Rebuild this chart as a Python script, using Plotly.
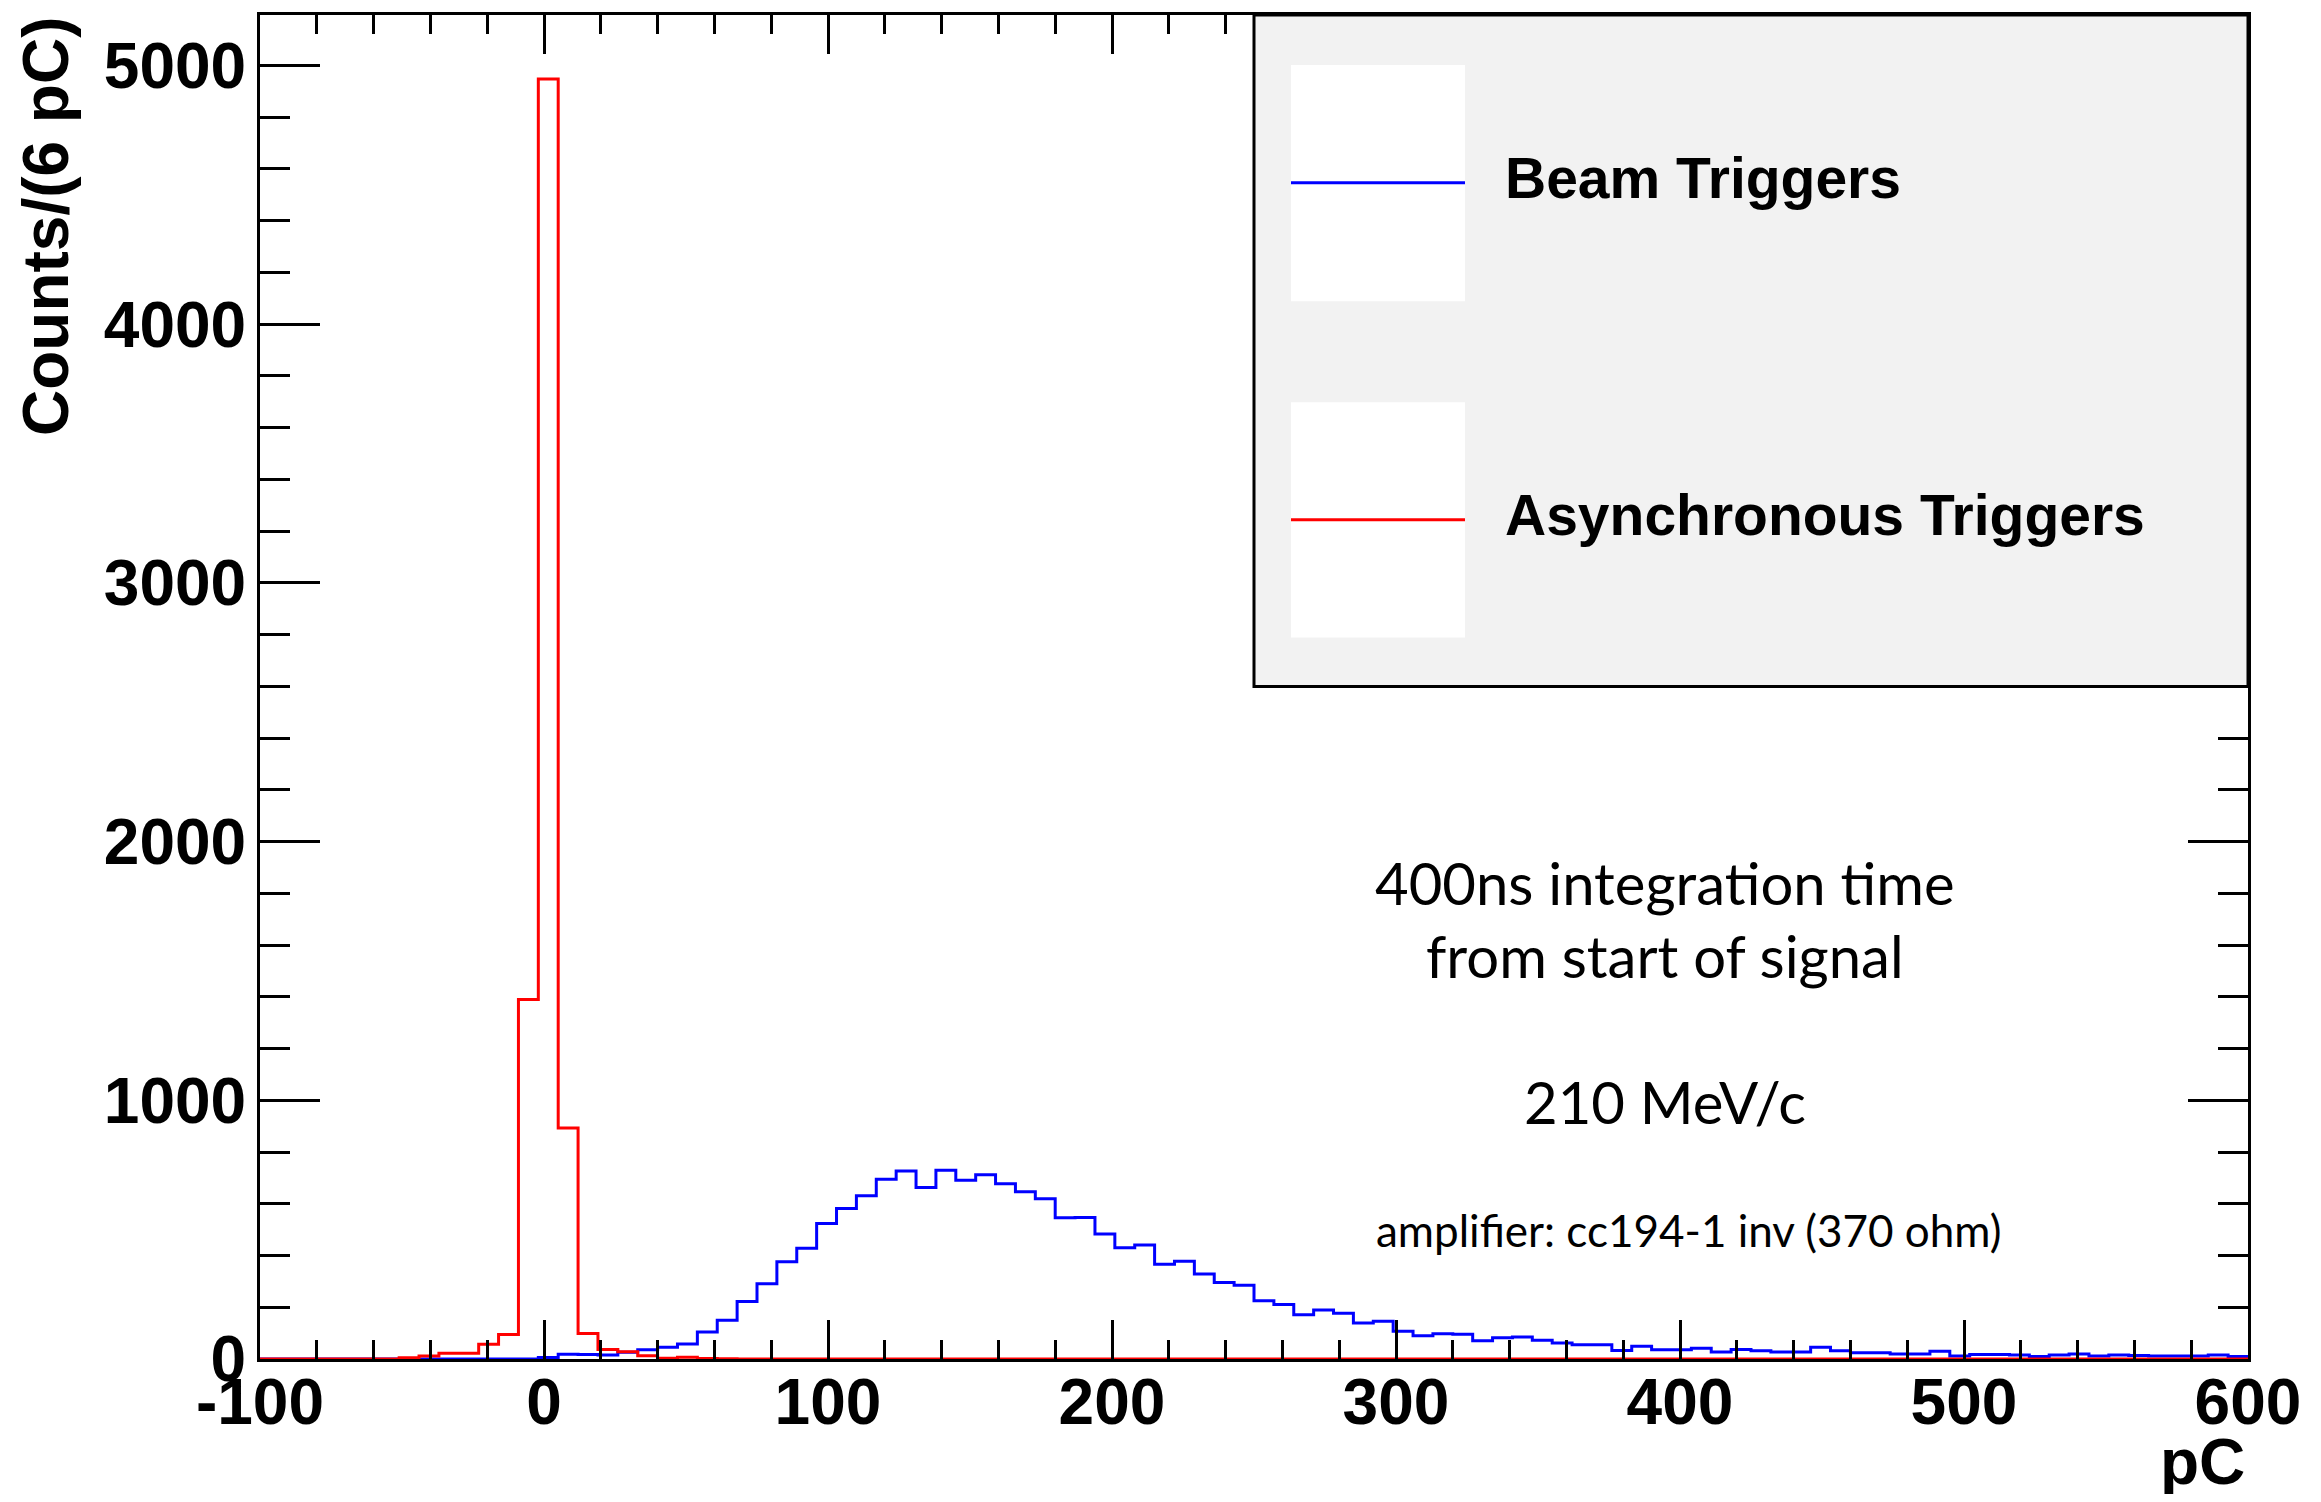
import plotly.graph_objects as go

# ---------------- data ----------------
bin_start = -100.0
bin_width = 7.0
n_bins = 100

beam_counts = [
    0, 0, 0, 0, 0, 0, 0, 0, 0, 0,
    0, 0, 0, 0, 6, 18, 17, 15, 26, 36,
    45, 58, 104, 150, 222, 291, 376, 428, 524, 582,
    631, 695, 727, 663, 730, 691, 712, 677, 646, 619,
    546, 547, 483, 430, 441, 366, 378, 329, 296, 285,
    225, 211, 171, 189, 177, 139, 146, 107, 90, 98,
    96, 71, 82, 85, 72, 62, 55, 55, 33, 49,
    36, 36, 42, 27, 37, 32, 27, 27, 45, 32,
    24, 24, 19, 19, 30, 12, 17, 17, 15, 10,
    15, 19, 12, 15, 14, 12, 12, 12, 15, 10,
]

async_counts = [
    0, 0, 0, 0, 0, 0, 0, 5, 12, 22,
    22, 57, 95, 1390, 4948, 893, 99, 37, 28, 13,
    3, 7, 2, 1, 0, 0, 0, 0, 0, 0,
] + [0] * 70

series_names = ["Beam Triggers", "Asynchronous Triggers"]
series_colors = ["#0000ff", "#ff0000"]

x_tick_vals = [-100, 0, 100, 200, 300, 400, 500, 600]
x_tick_text = ["-100", "0", "100", "200", "300", "400", "500", "600"]
y_tick_vals = [0, 1000, 2000, 3000, 4000, 5000]
y_tick_text = ["0", "1000", "2000", "3000", "4000", "5000"]

x_title = "pC"
y_title = "Counts/(6 pC)"
notes = ["400ns integration time", "from start of signal", "210 MeV/c",
         "amplifier: cc194-1 inv (370 ohm)"]

# ---------------- layout geometry ----------------
# page is rendered with an 8 px body margin; the figure is sized to fit
OFF = 8
W, H = 2321 - 2 * OFF, 1502 - 2 * OFF
L, R, T, B = 260, 2248, 12, 1359      # plot area in page pixels


def px(xp):
    return (xp - L) / (R - L)


def py(yp):
    return (B - yp) / (B - T)


edges = [bin_start + bin_width * i for i in range(n_bins + 1)]


def step_xy(counts):
    xs = list(edges)
    ys = list(counts) + [counts[-1]]
    return xs, ys


fig = go.Figure()
for name, counts, col in zip(series_names, [beam_counts, async_counts], series_colors):
    xs, ys = step_xy(counts)
    fig.add_trace(go.Scatter(x=xs, y=ys, mode="lines", name=name,
                             line=dict(color=col, width=3, shape="hv"),
                             showlegend=False, hoverinfo="skip"))

bold = dict(family="Liberation Sans, Arial, Helvetica, sans-serif", size=64,
            color="black", weight="bold")

fig.update_layout(
    width=W, height=H, autosize=False,
    margin=dict(l=L - OFF, r=W - (R - OFF), t=T - OFF, b=H - (B - OFF), pad=0),
    paper_bgcolor="white", plot_bgcolor="white",
    showlegend=False,
)

fig.update_xaxes(
    range=[-100, 600], tickmode="array", tickvals=x_tick_vals, ticktext=x_tick_text,
    ticks="inside", ticklen=39, tickwidth=3, tickcolor="black",
    showline=True, linewidth=3, linecolor="black", mirror="ticks",
    showgrid=False, zeroline=False, tickfont=bold, ticklabelstandoff=-15,
    minor=dict(dtick=20, tick0=0, ticks="inside", ticklen=19, tickwidth=3,
               tickcolor="black", showgrid=False),
)
fig.update_yaxes(
    range=[0, 5195], tickmode="array", tickvals=y_tick_vals, ticktext=y_tick_text,
    ticks="inside", ticklen=60, tickwidth=3, tickcolor="black",
    showline=True, linewidth=3, linecolor="black", mirror="ticks",
    showgrid=False, zeroline=False, tickfont=bold, ticklabelstandoff=-2,
    minor=dict(dtick=200, tick0=0, ticks="inside", ticklen=30, tickwidth=3,
               tickcolor="black", showgrid=False),
)

# ---------------- legend (drawn box, ROOT style) ----------------
shapes = []
shapes.append(dict(type="rect", xref="paper", yref="paper", x0=0.5, x1=1.0,
                   y0=py(685), y1=1.0, fillcolor="#f2f2f2",
                   line=dict(color="black", width=3), layer="above"))
legend_rows = [(62, 299, 180), (400, 636, 518)]
for (top, bot, ly), col in zip(legend_rows, series_colors):
    shapes.append(dict(type="rect", xref="paper", yref="paper",
                       x0=px(1291), x1=px(1465), y0=py(bot), y1=py(top),
                       fillcolor="white", line=dict(width=0), layer="above"))
    shapes.append(dict(type="line", xref="paper", yref="paper",
                       x0=px(1291), x1=px(1465), y0=py(ly), y1=py(ly),
                       line=dict(color=col, width=3), layer="above"))
fig.update_layout(shapes=shapes)

legfont = dict(bold, size=57)
ann = []
for (top, bot, ly), name in zip(legend_rows, series_names):
    ann.append(dict(text=name, xref="paper", yref="paper", x=px(1503), y=py(ly - 5),
                    xanchor="left", yanchor="middle", showarrow=False, font=legfont))

# axis titles
ann.append(dict(text=y_title, xref="paper", yref="paper", x=px(46), y=py(11),
                xanchor="center", yanchor="top", textangle=-90, showarrow=False,
                font=bold))
ann.append(dict(text=x_title, xref="paper", yref="paper", x=px(2247), y=py(1462),
                xanchor="right", yanchor="middle", showarrow=False, font=bold))

# notes
note_font = dict(family="Lato, Open Sans, sans-serif", size=58, color="black")
note_pos = [(1665, 881), (1665, 955), (1665, 1101)]
for txt, (nx, ny) in zip(notes[:3], note_pos):
    ann.append(dict(text=txt, xref="paper", yref="paper", x=px(nx), y=py(ny),
                    xanchor="center", yanchor="middle", showarrow=False, font=note_font))
ann.append(dict(text=notes[3], xref="paper", yref="paper", x=px(1688), y=py(1230),
                xanchor="center", yanchor="middle", showarrow=False,
                font=dict(note_font, size=44)))

fig.update_layout(annotations=ann)

fig.write_html("out.html")
